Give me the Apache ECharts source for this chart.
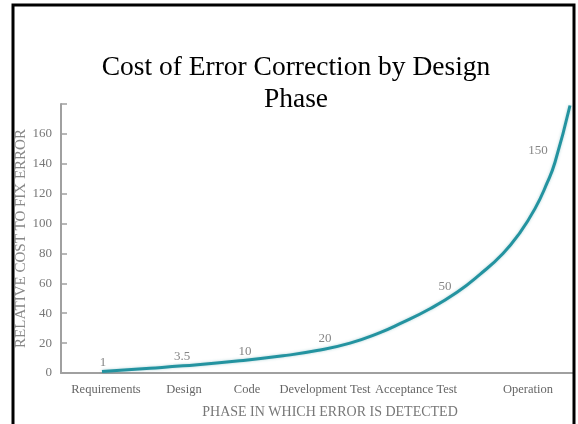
<!DOCTYPE html>
<html>
<head>
<meta charset="utf-8">
<script src="https://cdn.jsdelivr.net/npm/echarts@6/dist/echarts.min.js"></script>
<style>html,body{margin:0;padding:0;background:#fff}#c{width:578px;height:424px}</style>
</head>
<body>
<div id="c"></div>
<script>
// Phase categories and their positions along the horizontal scale
var phases = ['Requirements', 'Design', 'Code', 'Development Test', 'Acceptance Test', 'Operation'];
var phasePos = [45, 123, 186, 264, 355, 467];
// Relative cost labels shown next to the curve
var costLabels = ['1', '3.5', '10', '20', '50', '150'];
var costLabelX = [42, 121, 184, 264, 384, 477];
var costLabelY = [6.7, 11.3, 14, 22.7, 58, 149];
// Curve samples (x position, relative cost)
var curveX = [41, 89, 122, 176, 222, 256, 289, 319, 339, 369, 396, 419, 442, 459, 474, 486, 494, 509];
var curveY = [1, 3.2, 4.8, 8, 11.5, 15, 20, 27, 33, 43, 54, 66, 80, 94, 110, 127, 141, 179];
// Y axis tick values
var yTicks = [0, 20, 40, 60, 80, 100, 120, 140, 160];

var serif = '"Liberation Serif", "Times New Roman", serif';
var chart = echarts.init(document.getElementById('c'));
chart.setOption({
  animation: false,
  backgroundColor: '#fff',
  title: {
    text: 'Cost of Error Correction by Design\nPhase',
    left: 291, top: 47, textAlign: 'center',
    textStyle: {fontFamily: serif, fontSize: 27.5, fontWeight: 'normal', color: '#000', lineHeight: 32}
  },
  graphic: [{
    type: 'rect', shape: {x: 13, y: 5, width: 561, height: 500},
    style: {fill: 'none', stroke: '#000', lineWidth: 3}, z: 100
  }],
  grid: {left: 61, right: 4, top: 104, bottom: 50, containLabel: false},
  xAxis: {
    type: 'value', min: 0, max: 513,
    name: 'PHASE IN WHICH ERROR IS DETECTED',
    nameLocation: 'middle', nameGap: 32, nameMoveOverlap: false,
    nameTextStyle: {fontFamily: serif, fontSize: 14, color: '#777', padding: [0, 0, 0, 25]},
    axisLine: {show: true, lineStyle: {color: '#a0a0a0', width: 2}},
    axisTick: {show: false},
    splitLine: {show: false},
    axisLabel: {
      customValues: phasePos,
      formatter: function (v) { var i = phasePos.indexOf(v); return i >= 0 ? phases[i] : ''; },
      fontFamily: serif, fontSize: 12.5, color: '#666', margin: 10
    }
  },
  yAxis: {
    type: 'value', min: 0, max: 180, interval: 20,
    name: 'RELATIVE COST TO FIX ERROR',
    nameLocation: 'middle', nameGap: 32, nameRotate: 90, nameMoveOverlap: false,
    nameTextStyle: {fontFamily: serif, fontSize: 15, color: '#888'},
    axisLine: {show: true, lineStyle: {color: '#a0a0a0', width: 2}},
    axisTick: {show: true, inside: true, length: 6, lineStyle: {color: '#a0a0a0', width: 1.5}},
    splitLine: {show: false},
    axisLabel: {
      formatter: function (v) { return yTicks.indexOf(v) >= 0 ? String(v) : ''; },
      fontFamily: serif, fontSize: 13, color: '#777', margin: 9
    }
  },
  series: [{
    type: 'line', smooth: true, symbol: 'none',
    data: curveX.map(function (x, i) { return [x, curveY[i]]; }),
    lineStyle: {color: '#2393a0', width: 3, shadowColor: 'rgba(30,130,140,0.35)', shadowBlur: 3}
  }, {
    type: 'scatter', symbolSize: 0,
    data: costLabelX.map(function (x, i) { return {name: costLabels[i], value: [x, costLabelY[i]]}; }),
    label: {show: true, position: 'inside', formatter: '{b}', fontFamily: serif, fontSize: 13, color: '#666'}
  }]
});
</script>
</body>
</html>
